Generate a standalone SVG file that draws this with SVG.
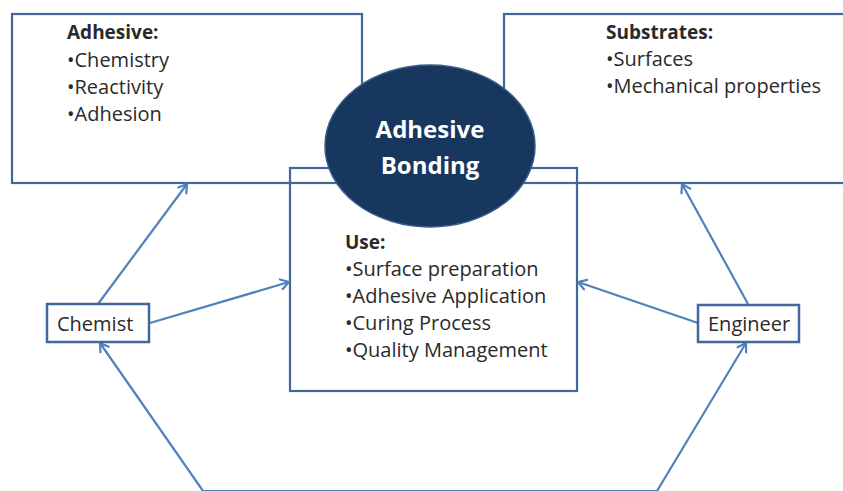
<svg xmlns="http://www.w3.org/2000/svg" width="843" height="491" viewBox="0 0 843 491">
  <style>
    .frame { fill: none; stroke: #41679B; stroke-width: 2.2; }
    .actor { fill: #ffffff; stroke: #41679B; stroke-width: 2.5; }
    .link { fill: none; stroke: #4F81BD; stroke-width: 2.2; }
    .txt { font-family: "Open Sans", "Liberation Sans", sans-serif; font-size: 20px; fill: #2a2a2a; }
    .hdr { font-weight: bold; font-size: 19px; }
    .core { font-family: "Open Sans", "Liberation Sans", sans-serif; font-size: 24px; font-weight: bold; fill: #ffffff; text-anchor: middle; }
  </style>
  <defs>
    <marker id="arrow" viewBox="-12 -10 20 20" markerWidth="20" markerHeight="20" refX="0" refY="0" markerUnits="userSpaceOnUse" orient="auto-start-reverse">
      <path d="M-8,-5 L0,0 L-8,5" fill="none" stroke="#4F81BD" stroke-width="2.2" stroke-linecap="round" stroke-linejoin="round"/>
    </marker>
  </defs>
  <rect width="843" height="491" fill="#ffffff"/>

  <!-- Adhesive box -->
  <g id="adhesive">
    <rect class="frame" x="12" y="14" width="350" height="169"/>
    <text class="txt hdr" x="67" y="39">Adhesive:</text>
    <text class="txt" x="67" y="67">•Chemistry</text>
    <text class="txt" x="67" y="94">•Reactivity</text>
    <text class="txt" x="67" y="121">•Adhesion</text>
  </g>

  <!-- Substrates box (runs off the right edge) -->
  <g id="substrates">
    <rect class="frame" x="504" y="14" width="360" height="169"/>
    <text class="txt hdr" x="606" y="39">Substrates:</text>
    <text class="txt" x="606" y="66">•Surfaces</text>
    <text class="txt" x="606" y="93">•Mechanical properties</text>
  </g>

  <!-- Use box -->
  <g id="use">
    <rect class="frame" x="290" y="168" width="287" height="223"/>
    <text class="txt hdr" x="345" y="249">Use:</text>
    <text class="txt" x="345" y="276">•Surface preparation</text>
    <text class="txt" x="345" y="303">•Adhesive Application</text>
    <text class="txt" x="345" y="330">•Curing Process</text>
    <text class="txt" x="345" y="357">•Quality Management</text>
  </g>

  <!-- Central ellipse -->
  <g id="bonding">
    <ellipse cx="430" cy="146" rx="105" ry="81" fill="#17375E" stroke="#385D8A" stroke-width="1.5"/>
    <text class="core" x="430" y="138">Adhesive</text>
    <text class="core" x="430" y="174">Bonding</text>
  </g>

  <!-- Connectors -->
  <g id="connectors">
    <line class="link" x1="98" y1="304" x2="187" y2="184" marker-end="url(#arrow)"/>
    <line class="link" x1="150" y1="323" x2="289" y2="282" marker-end="url(#arrow)"/>
    <line class="link" x1="748" y1="304" x2="682" y2="184" marker-end="url(#arrow)"/>
    <line class="link" x1="698" y1="323" x2="578" y2="282" marker-end="url(#arrow)"/>
    <polyline class="link" points="100,343 203,491 657,491 746,343" marker-start="url(#arrow)" marker-end="url(#arrow)"/>
  </g>

  <!-- Actors -->
  <g id="chemist">
    <rect class="actor" x="47" y="304" width="102" height="38"/>
    <text class="txt" x="57" y="331">Chemist</text>
  </g>
  <g id="engineer">
    <rect class="actor" x="698" y="305" width="101" height="37"/>
    <text class="txt" x="708" y="331">Engineer</text>
  </g>
</svg>
